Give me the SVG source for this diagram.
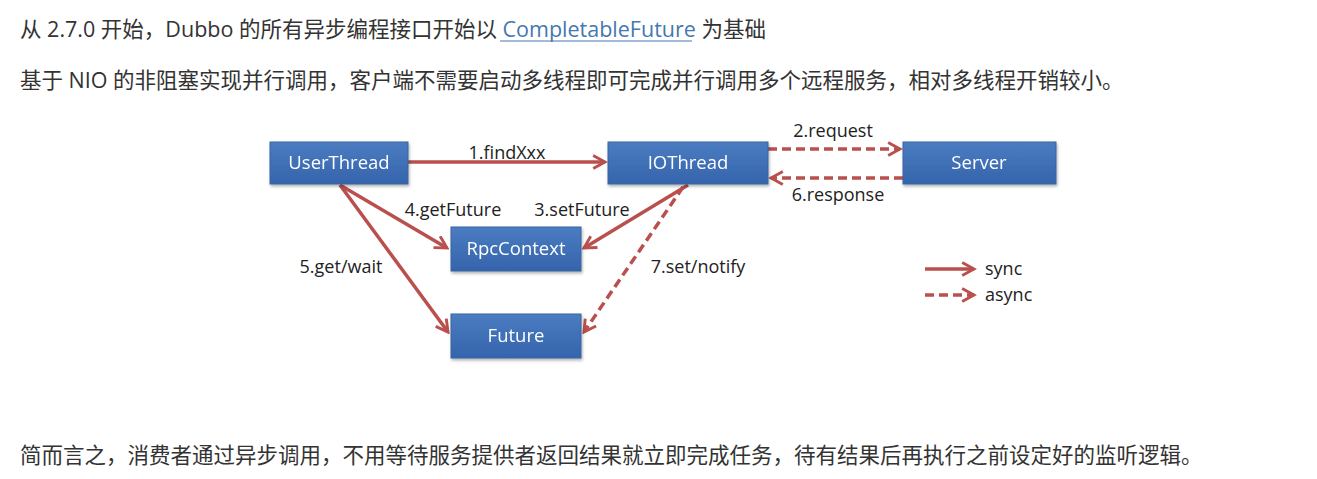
<svg xmlns="http://www.w3.org/2000/svg" width="1317" height="479" viewBox="0 0 1317 479">
<defs>
<style>
.p{font-family:"Open Sans","Noto Sans CJK SC",sans-serif;font-size:21.5px;fill:#333333}
.lk{fill:#4677b0}
.box{fill:url(#g);stroke:#3a64a0;stroke-width:1}
.bt{font-family:"Open Sans",sans-serif;font-size:18.5px;fill:#ffffff;text-anchor:middle}
.el{font-family:"Open Sans",sans-serif;font-size:18px;fill:#222;text-anchor:middle}
.ln{stroke:#b9504e;stroke-width:3.5;fill:none;marker-end:url(#ah)}
.ds{stroke-dasharray:9 5}
</style>
<linearGradient id="g" x1="0" y1="0" x2="0" y2="1">
<stop offset="0" stop-color="#4a7cc0"/>
<stop offset="1" stop-color="#3564ac"/>
</linearGradient>
<filter id="sh" x="-10%" y="-10%" width="130%" height="140%">
<feDropShadow dx="1" dy="2" stdDeviation="1.5" flood-color="#000" flood-opacity="0.3"/>
</filter>
<marker id="ah" viewBox="0 0 12 12" refX="10" refY="6" markerWidth="4.5" markerHeight="4.5" orient="auto" markerUnits="strokeWidth">
<polyline points="1,1 10,6 1,11" fill="none" stroke="#b9504e" stroke-width="2.2" stroke-linejoin="miter"/>
</marker>
</defs>
<rect width="1317" height="479" fill="#ffffff"/>
<g id="text">
<text class="p" x="20" y="37">从 2.7.0 开始，Dubbo 的所有异步编程接口开始以 <tspan class="lk">CompletableFuture</tspan> 为基础</text>
<text class="p" x="20" y="88">基于 NIO 的非阻塞实现并行调用，客户端不需要启动多线程即可完成并行调用多个远程服务，相对多线程开销较小。</text>
<text class="p" x="20" y="463">简而言之，消费者通过异步调用，不用等待服务提供者返回结果就立即完成任务，待有结果后再执行之前设定好的监听逻辑。</text>
</g>
<g id="connectors">
<line class="ln" x1="408" y1="162" x2="605" y2="162"/>
<line class="ln ds" x1="768" y1="149" x2="900" y2="149"/>
<line class="ln ds" x1="903" y1="178" x2="771" y2="178"/>
<line class="ln" x1="688" y1="185" x2="584" y2="248"/>
<line class="ln" x1="340" y1="185" x2="447" y2="248"/>
<line class="ln" x1="340" y1="185" x2="448" y2="332"/>
<line class="ln ds" x1="683" y1="187" x2="584" y2="332"/>
<line class="ln" x1="925" y1="269" x2="974" y2="269"/>
<line class="ln ds" x1="925" y1="295" x2="974" y2="295"/>
<text class="el" x="507" y="159">1.findXxx</text>
<text class="el" x="833" y="137">2.request</text>
<text class="el" x="838" y="201">6.response</text>
<text class="el" x="453" y="216">4.getFuture</text>
<text class="el" x="582" y="216">3.setFuture</text>
<text class="el" x="341" y="273">5.get/wait</text>
<text class="el" x="698" y="273">7.set/notify</text>
<text class="el" x="985" y="275" style="text-anchor:start">sync</text>
<text class="el" x="985" y="301" style="text-anchor:start">async</text>
</g>
<g id="UserThread" filter="url(#sh)"><rect class="box" x="270" y="142" width="138" height="42"/><text class="bt" x="339" y="169">UserThread</text></g>
<g id="IOThread" filter="url(#sh)"><rect class="box" x="608" y="142" width="160" height="42"/><text class="bt" x="688" y="169">IOThread</text></g>
<g id="Server" filter="url(#sh)"><rect class="box" x="903" y="142" width="153" height="42"/><text class="bt" x="979" y="169">Server</text></g>
<g id="RpcContext" filter="url(#sh)"><rect class="box" x="451" y="227" width="130" height="44"/><text class="bt" x="516" y="255">RpcContext</text></g>
<g id="Future" filter="url(#sh)"><rect class="box" x="451" y="314" width="130" height="44"/><text class="bt" x="516" y="342">Future</text></g>
<line x1="500" y1="41" x2="692" y2="41" stroke="#4677b0" stroke-width="1"/>
</svg>
